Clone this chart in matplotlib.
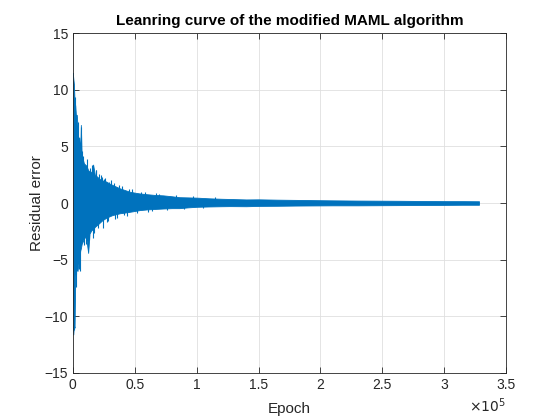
import numpy as np
import matplotlib
matplotlib.use('Agg')
import matplotlib.pyplot as plt
from matplotlib.ticker import FuncFormatter, MultipleLocator

plt.rcParams['font.family'] = ['Liberation Sans', 'DejaVu Sans']

# envelope of the residual error
epochs = [0, 400, 900, 1400, 2000, 2600, 3200, 3800, 4500, 5200, 6000, 6500,
          7200, 8000, 9000, 10000, 11000, 12400, 13500, 15000, 16400, 17800,
          20000, 22000, 24000, 27000, 30000, 32000, 35000, 38000, 42000, 46000,
          50000, 54000, 60000, 66000, 73000, 80000, 86000, 93000, 100000, 110000,
          120000, 127000, 140000, 150000, 165000, 180000, 194000, 210000, 230000,
          248000, 265000, 285000, 302000, 315000, 328000]
upper = [11.5, 11.0, 10.5, 9.0, 8.6, 7.6, 7.8, 6.8, 5.5, 5.8, 4.5, 6.9,
         4.0, 3.9, 3.5, 3.4, 3.3, 2.9, 2.8, 2.7, 3.4, 2.5,
         2.3, 2.1, 2.0, 1.9, 1.7, 1.6, 1.45, 1.3, 1.15, 1.0,
         0.92, 0.85, 0.78, 0.72, 0.68, 0.6, 0.52, 0.5, 0.48, 0.42,
         0.38, 0.36, 0.32, 0.33, 0.3, 0.28, 0.26, 0.24, 0.22,
         0.21, 0.2, 0.18, 0.17, 0.17, 0.16]
lower = [-10.5, -11.6, -10.8, -11.0, -6.5, -5.6, -5.9, -6.0, -5.4, -5.0, -4.2, -4.0,
         -3.6, -3.4, -3.1, -3.0, -3.2, -4.4, -2.7, -2.4, -2.3, -2.1,
         -1.9, -1.7, -1.5, -1.3, -1.15, -1.06, -0.98, -0.9, -0.84, -0.77,
         -0.7, -0.62, -0.56, -0.52, -0.48, -0.45, -0.45, -0.38, -0.33, -0.3,
         -0.28, -0.27, -0.28, -0.25, -0.24, -0.22, -0.21, -0.2, -0.2,
         -0.19, -0.18, -0.17, -0.16, -0.15, -0.15]

# single spikes sticking out of the band
spike_epochs = [700, 1700, 2900, 4100, 5600, 6900, 8600, 10500, 12000, 14200,
                15500, 16000, 19000, 21000, 23500, 24000, 26000, 28500, 31000,
                33500, 36000, 40000, 44000, 48000, 52000, 58000, 64000, 70000,
                1100, 2300, 3500, 4800, 7700, 9400, 11400, 13000, 17000, 18400,
                20600, 22500, 25200, 27300, 29600, 34200, 37500, 41000, 45500,
                55000, 61000, 67000, 76000, 83000, 90000, 97000, 105000, 115000]
spike_vals = [-11.2, 9.4, -6.3, 7.2, -6.0, 6.7, 4.2, -3.6, -4.0, 3.1,
              3.4, -3.1, 2.9, 2.6, 2.3, -2.2, 2.2, -1.6, 2.0,
              1.8, -1.3, 1.5, -1.1, 1.2, -0.9, 0.95, -0.7, 0.8,
              8.3, -7.4, 6.2, -5.8, 4.6, -3.7, 3.9, -3.3, -2.6, 2.9,
              -2.2, 2.5, 2.1, -1.7, 1.9, -1.4, 1.6, -1.05, 1.25,
              1.0, -0.75, 0.85, -0.6, 0.7, -0.55, 0.6, -0.45, 0.5]

blue = '#0072BD'
dark = '#262626'

fig = plt.figure(figsize=(5.6, 4.2), dpi=100)
ax = fig.add_axes([0.130, 0.112, 0.774, 0.809])

ax.fill_between(epochs, lower, upper, color=blue, linewidth=0.6, edgecolor=blue)
ax.vlines(spike_epochs, 0, spike_vals, color=blue, linewidth=0.8)

ax.set_xlim(0, 3.5e5)
ax.set_ylim(-15, 15)
ax.xaxis.set_major_locator(MultipleLocator(0.5e5))
ax.yaxis.set_major_locator(MultipleLocator(5))
ax.xaxis.set_major_formatter(FuncFormatter(lambda v, p: f'{v / 1e5:g}'))

ax.grid(True, color='#dfdfdf', linewidth=0.6)
ax.set_axisbelow(True)
ax.tick_params(direction='in', top=True, right=True, length=4, width=0.6,
               colors=dark, labelsize=10)
for s in ax.spines.values():
    s.set_color(dark)
    s.set_linewidth(0.6)

ax.text(1.0, -0.068, r'$\times 10^5$', transform=ax.transAxes, ha='right',
        va='top', fontsize=10, color=dark)
ax.set_xlabel('Epoch', fontsize=11, color=dark, labelpad=7)
ax.set_ylabel('Residual error', fontsize=11, color=dark, labelpad=0)
ax.set_title('Leanring curve of the modified MAML algorithm', fontsize=11,
             fontweight='bold', color='black', pad=6)

fig.savefig('out.png', dpi=100)
